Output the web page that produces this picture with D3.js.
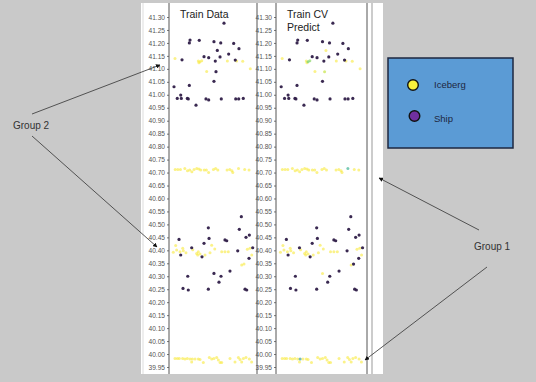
<!DOCTYPE html>
<html>
<head>
    <script src="https://cdnjs.cloudflare.com/ajax/libs/d3/7.8.5/d3.min.js"></script>
    <style>
        body { margin: 0; background: #c9c9c9; }
        text { font-family: "Liberation Sans", Arial, sans-serif; }
    </style>
</head>
<body>
    <div id="chart"></div>
    <script>
        // [sample index (0-100), value]
        const topShip = [
            [62.5, 41.276], [23.9, 41.211], [23.1, 41.200], [34.4, 41.210], [51.1, 41.205],
            [58.8, 41.200], [73.5, 41.198], [79.5, 41.178], [54.9, 41.171], [67.8, 41.157],
            [39.8, 41.147], [45.1, 41.143], [58.0, 41.146], [14.8, 41.135], [52.6, 41.130],
            [75.3, 41.134], [53.4, 41.089], [51.1, 41.052], [5.7, 41.031], [23.1, 41.036],
            [13.3, 40.999], [9.4, 40.986], [14.0, 40.986], [20.8, 40.986], [21.9, 40.984],
            [42.0, 40.984], [45.1, 40.980], [59.4, 40.984], [75.8, 40.984], [79.2, 40.984],
            [84.4, 40.986], [30.7, 40.960]
        ];
        const topIce = [
            [6.8, 41.140], [33.3, 41.130], [35.2, 41.127], [37.2, 41.131], [34.0, 41.124],
            [42.8, 41.090], [66.3, 41.130], [76.9, 41.130], [83.8, 41.129], [92.4, 41.100]
        ];
        const bandIce = [
            [7.0, 40.712], [10.0, 40.712], [13.0, 40.712], [18.0, 40.716], [21.0, 40.707],
            [23.5, 40.710], [26.0, 40.703], [28.5, 40.712], [31.5, 40.716], [34.0, 40.714],
            [36.0, 40.710], [40.0, 40.710], [42.5, 40.710], [45.0, 40.700], [50.5, 40.712],
            [53.0, 40.716], [55.5, 40.710], [66.0, 40.710], [69.0, 40.712], [71.5, 40.707],
            [72.5, 40.700], [79.0, 40.716], [86.0, 40.712], [91.0, 40.710]
        ];
        const lowShip = [
            [11.4, 40.442], [44.7, 40.487], [45.5, 40.446], [39.8, 40.427], [63.6, 40.440],
            [65.6, 40.437], [82.2, 40.530], [79.9, 40.481], [87.5, 40.450], [91.3, 40.459],
            [25.8, 40.410], [95.1, 40.410], [13.3, 40.382], [37.5, 40.375], [78.1, 40.398],
            [21.3, 40.300], [15.9, 40.253], [21.9, 40.247], [44.7, 40.250], [51.1, 40.311],
            [59.1, 40.300], [56.8, 40.277], [69.3, 40.320], [86.4, 40.250], [88.3, 40.247],
            [90.9, 40.369]
        ];
        const lowIce = [
            [7.6, 40.419], [4.9, 40.393], [8.7, 40.401], [12.5, 40.395], [16.3, 40.398],
            [19.3, 40.391], [31.4, 40.388], [33.3, 40.395], [35.2, 40.386], [32.6, 40.382],
            [40.9, 40.382], [46.6, 40.391], [48.5, 40.420], [59.9, 40.395], [63.6, 40.395],
            [67.4, 40.395], [82.6, 40.343], [85.2, 40.347], [89.0, 40.404], [92.0, 40.408],
            [94.0, 40.382], [15.6, 40.408], [27.0, 40.402], [52.0, 40.405]
        ];
        const baseIce = [
            [6.8, 39.983], [9.5, 39.983], [11.7, 39.983], [15.5, 39.983], [18.1, 39.981],
            [20.8, 39.983], [23.9, 39.981], [26.5, 39.981], [25.8, 39.969], [29.6, 39.981],
            [33.3, 39.981], [35.2, 39.979], [39.0, 39.967], [45.8, 39.987], [48.5, 39.981],
            [51.1, 39.983], [54.2, 39.987], [56.1, 39.977], [58.0, 39.967], [59.9, 39.967],
            [69.3, 39.983], [75.0, 39.969], [78.8, 39.987], [80.7, 39.979], [82.6, 39.969],
            [84.5, 39.983], [87.5, 39.987], [91.3, 39.981], [93.9, 39.969]
        ];
        // CV prediction differs from the label on a few points: [group, index, probability of iceberg]
        const cvChanges = [
            ["topShip", 8, 1], ["topShip", 16, 0.9], ["topIce", 2, 0.75], ["topIce", 3, 0.8],
            ["lowShip", 19, 1], ["lowIce", 17, 0], ["bandIce", 21, 0.6], ["baseIce", 7, 0.5]
        ];
        const yTicks = d3.range(0, 28).map(i => +(39.95 + i * 0.05).toFixed(2));
        const panels = ["Train Data", "Train CV|Predict"];
        const legendItems = ["Iceberg", "Ship"];

        const W = 536, H = 382;
        const svg = d3.select("#chart").append("svg")
            .attr("width", W).attr("height", H);

        svg.append("rect").attr("width", W).attr("height", H).attr("fill", "#c9c9c9");
        svg.append("rect").attr("x", 141).attr("y", 3).attr("width", 242).attr("height", 371)
            .attr("fill", "#fff");
        svg.append("line").attr("x1", 143).attr("x2", 143).attr("y1", 3).attr("y2", 374)
            .attr("stroke", "#ddd");

        const y = d3.scaleLinear().domain([39.95, 41.30]).range([367, 17]);
        const color = p => p >= 0.99 ? "#f8ea3a" : p <= 0.01 ? "#2f1d48" : d3.interpolateViridis(p);

        const groups = { topShip, topIce, bandIce, lowShip, lowIce, baseIce };
        const labels = { topShip: 0, topIce: 1, bandIce: 1, lowShip: 0, lowIce: 1, baseIce: 1 };

        function pointsFor(predict) {
            const pts = [];
            Object.keys(groups).forEach(g => {
                groups[g].forEach((d, i) => {
                    let p = labels[g];
                    if (predict) {
                        const c = cvChanges.find(c => c[0] === g && c[1] === i);
                        if (c) p = c[2];
                    }
                    pts.push({ x: d[0], v: d[1], p });
                });
            });
            // draw icebergs first, ships on top
            return pts.sort((a, b) => b.p - a.p);
        }

        const layout = [
            { x0: 169, x1: 257, title: panels[0], predict: false },
            { x0: 276, x1: 367, title: panels[1], predict: true }
        ];

        layout.forEach(L => {
            const x = d3.scaleLinear().domain([0, 100]).range([L.x0, L.x1]);
            const g = svg.append("g");

            g.append("g")
                .attr("transform", `translate(${L.x0},0)`)
                .call(d3.axisLeft(y).tickValues(yTicks).tickFormat(d3.format(".2f")).tickSize(2).tickPadding(2))
                .call(a => a.select(".domain").remove())
                .call(a => a.selectAll("text").attr("font-size", 6.6).attr("fill", "#555")
                    .style("font-family", "'Liberation Sans', Arial, sans-serif"))
                .call(a => a.selectAll("line").attr("stroke", "#777"));

            g.append("line").attr("x1", L.x0).attr("x2", L.x0).attr("y1", 3).attr("y2", 374)
                .attr("stroke", "#555").attr("stroke-width", 1);
            g.append("line").attr("x1", L.x1).attr("x2", L.x1).attr("y1", 3).attr("y2", 374)
                .attr("stroke", "#555").attr("stroke-width", 1);

            const lines = L.title.split("|");
            g.append("text").attr("x", L.x0 + 11).attr("y", 18)
                .attr("font-size", 10.5).attr("fill", "#222")
                .selectAll("tspan").data(lines).join("tspan")
                .attr("x", L.x0 + 11).attr("dy", (d, i) => i ? 12.5 : 0).text(d => d);

            g.selectAll("circle").data(pointsFor(L.predict)).join("circle")
                .attr("cx", d => x(d.x)).attr("cy", d => y(d.v))
                .attr("r", d => d.p < 0.5 ? 1.6 : 1.5)
                .attr("fill", d => color(d.p))
                .attr("opacity", d => d.p < 0.5 ? 0.95 : 0.6);
        });

        svg.append("line").attr("x1", 372).attr("x2", 372).attr("y1", 3).attr("y2", 374)
            .attr("stroke", "#999");

        // legend
        const lg = svg.append("g");
        lg.append("rect").attr("x", 388).attr("y", 58).attr("width", 125).attr("height", 90)
            .attr("fill", "#5b9bd5").attr("stroke", "#1d2740").attr("stroke-width", 1.5);
        const legendColors = ["#f7f03c", "#7030a0"];
        const ly = d3.scalePoint().domain(legendItems).range([85, 116]);
        lg.selectAll("circle").data(legendItems).join("circle")
            .attr("cx", (d, i) => 413 + i * 1.5).attr("cy", d => ly(d)).attr("r", 5.3)
            .attr("fill", (d, i) => legendColors[i]).attr("stroke", "#111").attr("stroke-width", 1.4);
        lg.selectAll("text").data(legendItems).join("text")
            .attr("x", 434).attr("y", (d, i) => ly(d) + 3 + i * 3).attr("font-size", 9.5).attr("fill", "#1d2740")
            .text(d => d);

        // annotations
        svg.append("defs").append("marker").attr("id", "arr")
            .attr("viewBox", "0 0 10 10").attr("refX", 9).attr("refY", 5)
            .attr("markerWidth", 5).attr("markerHeight", 5).attr("orient", "auto")
            .append("path").attr("d", "M0,0L10,5L0,10z").attr("fill", "#111");

        const arrows = [
            [32, 114, 160, 65], [32, 136, 157, 247],
            [479, 230, 379, 178], [487, 267, 365, 360]
        ];
        svg.selectAll(".arrow").data(arrows).join("line").attr("class", "arrow")
            .attr("x1", d => d[0]).attr("y1", d => d[1]).attr("x2", d => d[2]).attr("y2", d => d[3])
            .attr("stroke", "#444").attr("stroke-width", 0.9).attr("marker-end", "url(#arr)");

        svg.append("text").attr("x", 13).attr("y", 129).attr("font-size", 10).attr("fill", "#333").text("Group 2");
        svg.append("text").attr("x", 474).attr("y", 250).attr("font-size", 10).attr("fill", "#333").text("Group 1");
    </script>
</body>
</html>
